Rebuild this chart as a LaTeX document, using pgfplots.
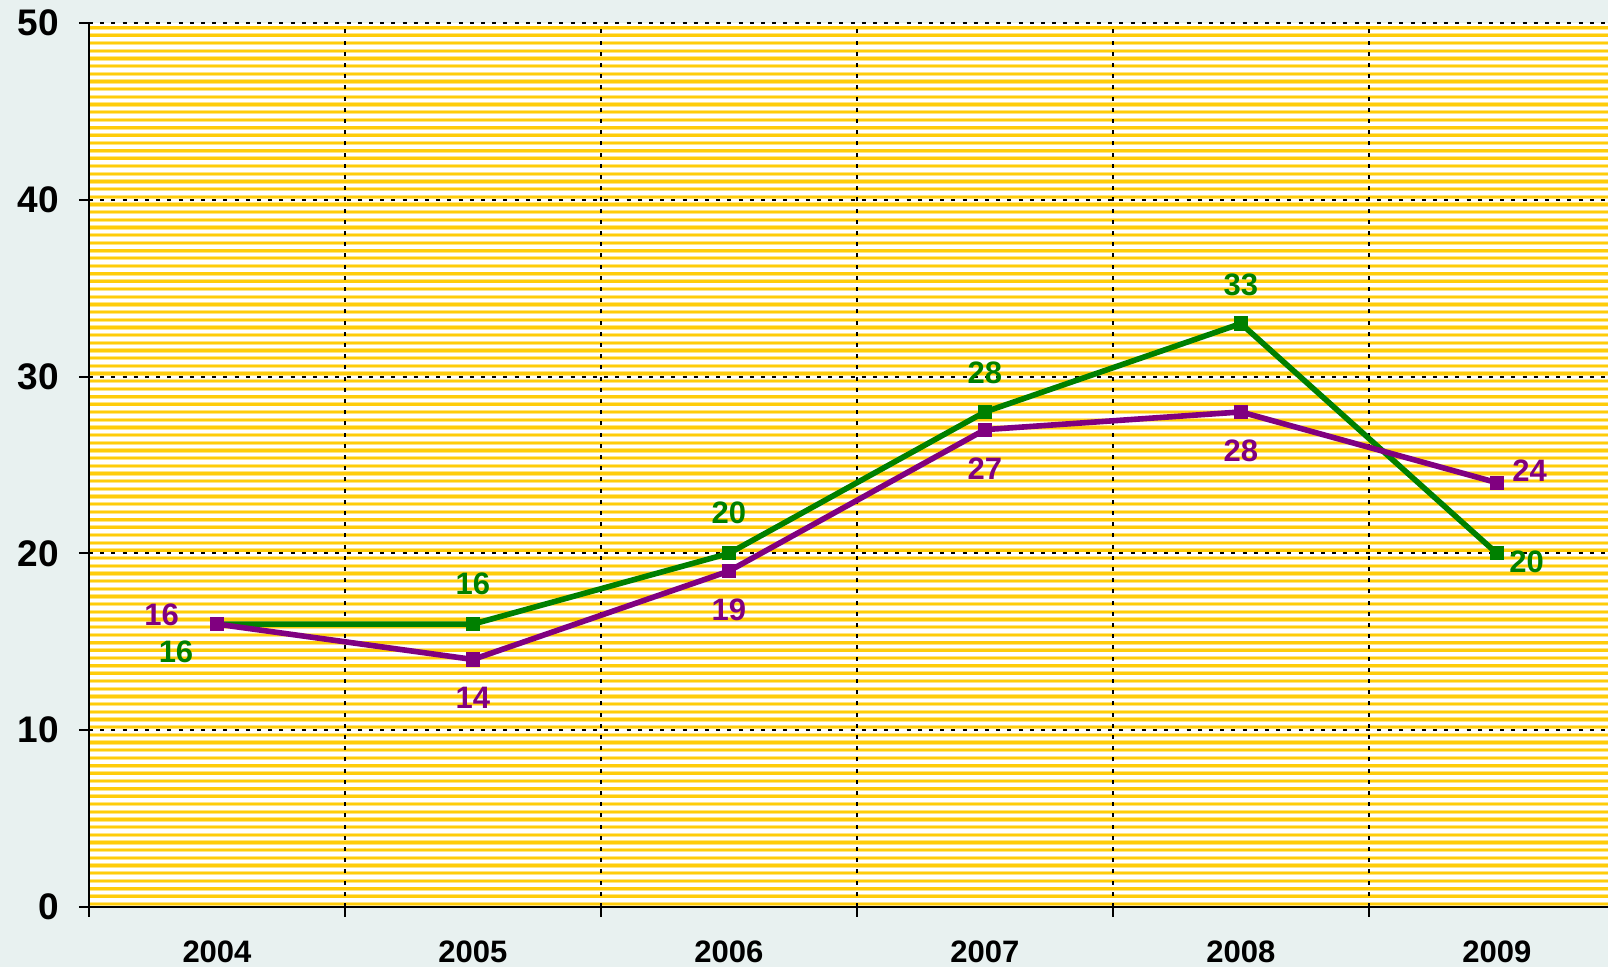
\documentclass[border=0pt]{standalone}
\usepackage{pgfplots}
\usepackage{pgfplotstable}
\pgfplotsset{compat=1.18}
\usepackage{fontspec}
\setmainfont{Liberation Sans}
\pgfplotsset{/pgf/number format/assume math mode=true}
\definecolor{bgc}{RGB}{232,241,240}
\definecolor{pale}{RGB}{255,230,130}
\definecolor{gold}{RGB}{255,204,10}
\definecolor{sgreen}{RGB}{0,128,0}
\definecolor{spurple}{RGB}{128,0,128}

\pgfplotstableread{
x y dx dy
0 16 -20.5 -14
1 16 0 19.9
2 20 0 20.4
3 28 0 19.8
4 33 0 19.2
5 20 14.9 -4.2
}\greendata

\pgfplotstableread{
x y dx dy
0 16 -27.7 4.5
1 14 0 -19.3
2 19 0 -19.4
3 27 0 -19.5
4 28 0 -19.6
5 24 16.4 6
}\purpledata

\begin{document}
\begin{tikzpicture}
\useasboundingbox (0pt,0pt) rectangle (804pt,483.5pt);
\clip (0pt,0pt) rectangle (804pt,483.5pt);
\fill[bgc] (0pt,0pt) rectangle (804pt,483.5pt);
\fill[white] (44.5pt,30pt) rectangle (804pt,472pt);
\foreach \i in {0,...,114} {
  \draw[pale, line width=2.1pt] (44.5pt,31.5pt+\i*3.8434pt) -- (804pt,31.5pt+\i*3.8434pt);
  \draw[gold, line width=1.2pt] (44.5pt,31.5pt+\i*3.8434pt) -- (804pt,31.5pt+\i*3.8434pt);
}
\begin{axis}[
  at={(44.5pt,30pt)}, anchor=south west,
  scale only axis, width=759.5pt, height=442pt,
  xmin=-0.5, xmax=5.434, ymin=0, ymax=50,
  axis x line=bottom, axis y line=left,
  axis line style={-, line width=1pt, black},
  tick align=outside,
  major tick length=5pt,
  tick style={line width=1pt, black},
  ytick={0,10,...,50},
  xtick={-0.5,0.5,1.5,2.5,3.5,4.5},
  xticklabels={},
  ymajorgrids, xmajorgrids,
  grid style={black, line width=1pt, dash pattern=on 2pt off 3.6pt},
  yticklabel style={font=\fontsize{18.5}{18.5}\selectfont\bfseries, anchor=east, inner sep=0pt, xshift=-10pt},
  extra x ticks={0,1,2,3,4,5},
  extra x tick labels={2004,2005,2006,2007,2008,2009},
  extra x tick style={xmajorgrids=false, major tick length=0pt,
     xticklabel style={font=\fontsize{15.5}{15.5}\selectfont\bfseries, anchor=center, yshift=-22.5pt}},
  clip=false,
]
\addplot[sgreen, line width=2.8pt, mark=square*, mark size=3.3pt,
  mark options={line width=0.5pt, fill=sgreen},
  nodes near coords,
  visualization depends on={\thisrow{dx} \as \mydx},
  visualization depends on={\thisrow{dy} \as \mydy},
  every node near coord/.style={anchor=center, xshift=\mydx pt, yshift=\mydy pt,
     font=\fontsize{15.5}{15.5}\selectfont\bfseries, text=sgreen}]
  table[x=x,y=y]{\greendata};
\addplot[spurple, line width=2.8pt, mark=square*, mark size=3.3pt,
  mark options={line width=0.5pt, fill=spurple},
  nodes near coords,
  visualization depends on={\thisrow{dx} \as \mydx},
  visualization depends on={\thisrow{dy} \as \mydy},
  every node near coord/.style={anchor=center, xshift=\mydx pt, yshift=\mydy pt,
     font=\fontsize{15.5}{15.5}\selectfont\bfseries, text=spurple}]
  table[x=x,y=y]{\purpledata};
\end{axis}
\end{tikzpicture}
\end{document}
